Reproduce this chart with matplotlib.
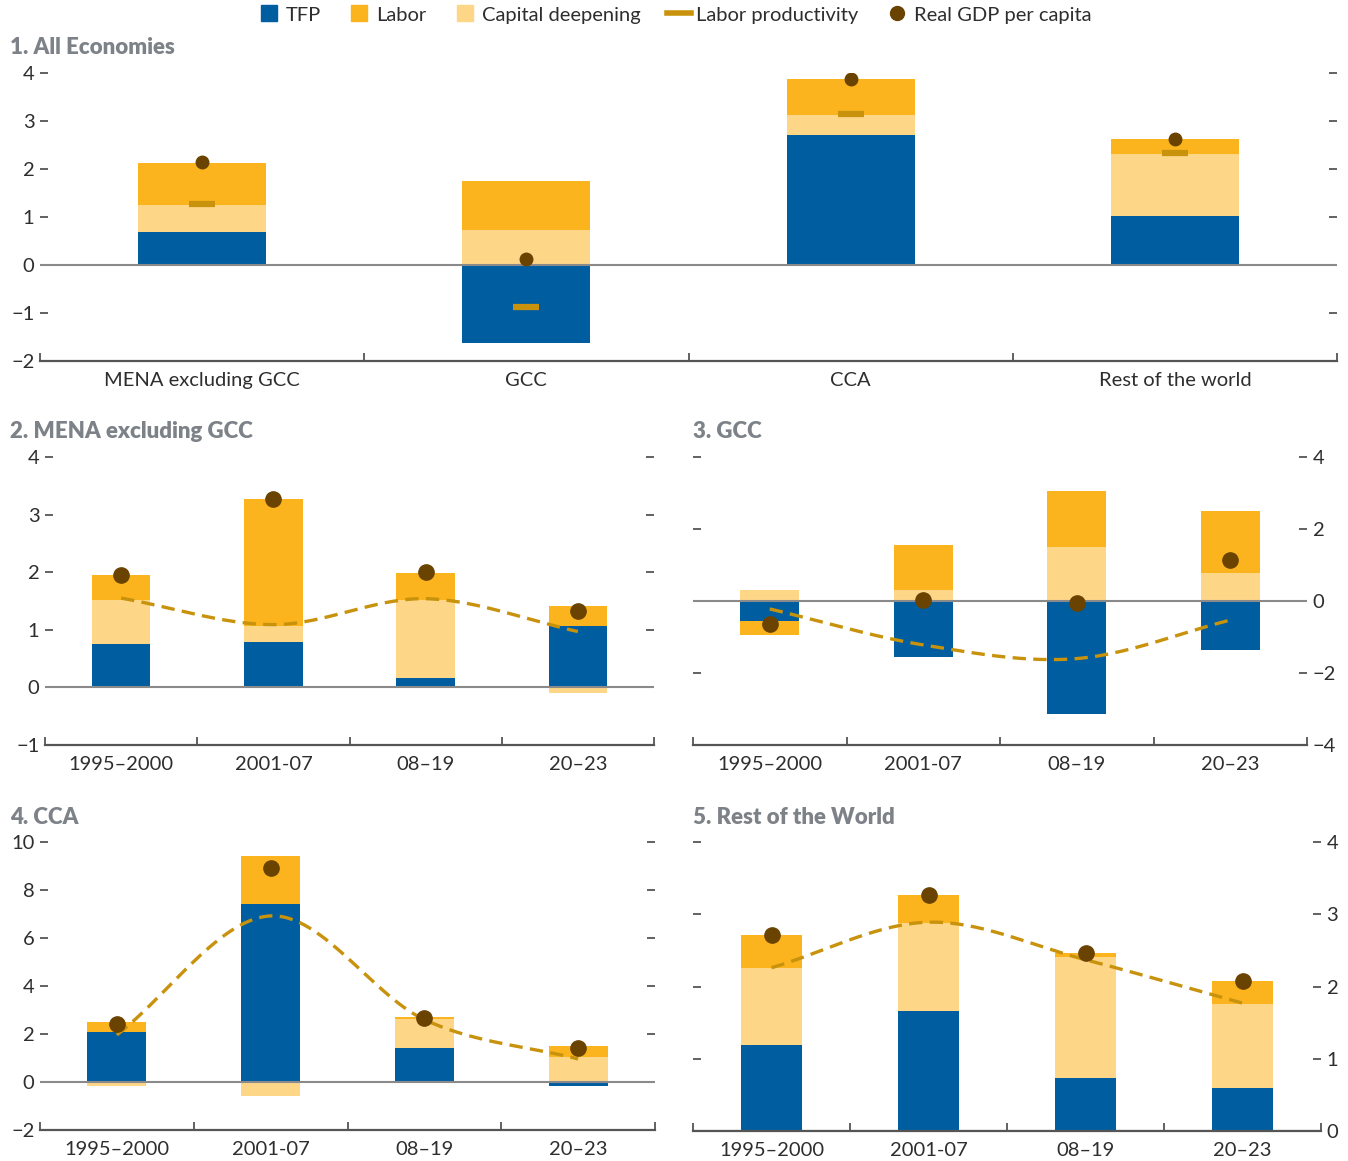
import numpy as np
import matplotlib
matplotlib.use("Agg")
import matplotlib.pyplot as plt
from matplotlib.lines import Line2D

plt.rcParams['font.family'] = ['Lato', 'DejaVu Sans']

# ---------------- data ----------------
legend_labels = ["TFP", "Labor", "Capital deepening", "Labor productivity", "Real GDP per capita"]

p1_categories = ["MENA excluding GCC", "GCC", "CCA", "Rest of the world"]
p1_tfp = [0.69, -1.63, 2.71, 1.02]
p1_capital = [0.56, 0.73, 0.42, 1.29]
p1_labor = [0.87, 1.02, 0.75, 0.31]
p1_lp = [1.27, -0.88, 3.15, 2.33]
p1_gdp = [2.15, 0.13, 3.88, 2.63]

periods = ["1995\u20132000", "2001-07", "08\u201319", "20\u201323"]

mena_tfp = [0.76, 0.78, 0.17, 1.06]
mena_capital = [0.76, 0.29, 1.35, -0.10]
mena_labor = [0.44, 2.20, 0.47, 0.36]
mena_lp = [1.55, 1.09, 1.54, 0.97]
mena_gdp = [1.96, 3.27, 2.00, 1.33]

gcc_tfp = [-0.56, -1.56, -3.14, -1.36]
gcc_capital = [0.31, 0.31, 1.50, 0.78]
gcc_labor = [-0.38, 1.25, 1.56, 1.72]
gcc_lp = [-0.22, -1.22, -1.60, -0.53]
gcc_gdp = [-0.64, 0.03, -0.06, 1.14]

cca_tfp = [2.08, 7.42, 1.42, -0.15]
cca_capital = [-0.15, -0.58, 1.20, 1.04]
cca_labor = [0.42, 2.00, 0.09, 0.46]
cca_lp = [1.96, 6.92, 2.60, 0.96]
cca_gdp = [2.42, 8.92, 2.67, 1.42]

row_tfp = [1.19, 1.66, 0.73, 0.60]
row_capital = [1.07, 1.22, 1.68, 1.16]
row_labor = [0.45, 0.39, 0.05, 0.32]
row_lp = [2.26, 2.89, 2.37, 1.77]
row_gdp = [2.71, 3.27, 2.46, 2.08]

# ---------------- style ----------------
C_TFP = "#005DA0"
C_LAB = "#FBB41E"
C_CAP = "#FDD688"
C_LP = "#C8920C"
C_GDP = "#6A4300"
C_TITLE = "#7D8288"
C_TXT = "#2E2E2E"
C_AX = "#555555"
TICK_FS = 14.5

W, H = 1348, 1161
fig = plt.figure(figsize=(W / 100, H / 100), dpi=100)


def add_ax(x0, x1, ytop, ybot):
    return fig.add_axes([x0 / W, 1 - ybot / H, (x1 - x0) / W, (ybot - ytop) / H])


def stacked(ax, x, comps, colors, width):
    pos = np.zeros(len(x))
    neg = np.zeros(len(x))
    for vals, c in zip(comps, colors):
        v = np.asarray(vals, float)
        base = np.where(v >= 0, pos, neg)
        ax.bar(x, v, width, bottom=base, color=c, linewidth=0, zorder=2)
        pos += np.clip(v, 0, None)
        neg += np.clip(v, None, 0)


def smooth(x, y, n=60):
    x = np.asarray(x, float)
    y = np.asarray(y, float)
    m = np.zeros_like(y)
    m[1:-1] = (y[2:] - y[:-2]) / (x[2:] - x[:-2])
    m[0] = (y[1] - y[0]) / (x[1] - x[0])
    m[-1] = (y[-1] - y[-2]) / (x[-1] - x[-2])
    xs, ys = [], []
    for i in range(len(x) - 1):
        h = x[i + 1] - x[i]
        t = np.linspace(0, 1, n)
        h00 = 2 * t**3 - 3 * t**2 + 1
        h10 = t**3 - 2 * t**2 + t
        h01 = -2 * t**3 + 3 * t**2
        h11 = t**3 - t**2
        xs.append(x[i] + t * h)
        ys.append(h00 * y[i] + h10 * h * m[i] + h01 * y[i + 1] + h11 * h * m[i + 1])
    return np.concatenate(xs), np.concatenate(ys)


def style(ax, labels, ylim, yticks, label_side):
    n = len(labels)
    ax.set_xlim(-0.5, n - 0.5)
    ax.set_ylim(*ylim)
    for s in ["top", "left", "right"]:
        ax.spines[s].set_visible(False)
    ax.spines["bottom"].set_color(C_AX)
    ax.spines["bottom"].set_linewidth(1.6)
    ax.spines["bottom"].set_zorder(5)
    ax.set_xticks(np.arange(n + 1) - 0.5)
    ax.set_xticklabels([])
    ax.set_xticks(np.arange(n), minor=True)
    ax.set_xticklabels(labels, minor=True)
    ax.tick_params(axis="x", which="major", direction="in", length=6, width=1.3, color=C_AX)
    ax.tick_params(axis="x", which="minor", length=0, pad=8, labelsize=TICK_FS, labelcolor=C_TXT)
    ax.set_yticks(yticks)
    ax.tick_params(axis="y", direction="in", length=6, width=1.3, color=C_AX,
                   left=True, right=True,
                   labelleft=(label_side == "left"), labelright=(label_side == "right"),
                   labelsize=TICK_FS, labelcolor=C_TXT, pad=4)
    ax.axhline(0, color="#8A8A8A", lw=1.5, zorder=3)


# ---------------- panel 1 ----------------
ax1 = add_ax(40, 1337, 73, 361)
x = np.arange(len(p1_categories))
stacked(ax1, x, [p1_tfp, p1_capital, p1_labor], [C_TFP, C_CAP, C_LAB], 0.395)
style(ax1, p1_categories, (-2, 4), np.arange(-2, 5, 1), "left")
ax1.plot(x, p1_lp, linestyle="none", marker="_", markersize=19, mew=4.5, color=C_LP, zorder=4)
ax1.plot(x, p1_gdp, linestyle="none", marker="o", markersize=9, color=C_GDP, zorder=6)


def lower_panel(box, tfp, cap, lab, lp, gdp, ylim, yticks, side):
    ax = add_ax(*box)
    xx = np.arange(len(periods))
    stacked(ax, xx, [tfp, cap, lab], [C_TFP, C_CAP, C_LAB], 0.385)
    style(ax, periods, ylim, yticks, side)
    sx, sy = smooth(xx, lp)
    ax.plot(sx, sy, linestyle=(0, (4, 2.2)), lw=2.4, color=C_LP, zorder=4)
    ax.plot(xx, gdp, linestyle="none", marker="o", markersize=11, color=C_GDP, zorder=6)
    return ax


lower_panel((45, 654, 457, 745), mena_tfp, mena_capital, mena_labor, mena_lp, mena_gdp,
            (-1, 4), np.arange(-1, 5, 1), "left")
lower_panel((693, 1307, 457, 745), gcc_tfp, gcc_capital, gcc_labor, gcc_lp, gcc_gdp,
            (-4, 4), np.arange(-4, 5, 2), "right")
lower_panel((40, 655, 842, 1130), cca_tfp, cca_capital, cca_labor, cca_lp, cca_gdp,
            (-2, 10), np.arange(-2, 11, 2), "left")
lower_panel((693, 1321, 842, 1131), row_tfp, row_capital, row_labor, row_lp, row_gdp,
            (0, 4), np.arange(0, 5, 1), "right")

# ---------------- titles ----------------
tkw = dict(fontsize=16, fontweight="heavy", color=C_TITLE, va="center", ha="left")
fig.text(10 / W, 1 - 48 / H, "1. All Economies", **tkw)
fig.text(10 / W, 1 - 432 / H, "2. MENA excluding GCC", **tkw)
fig.text(693 / W, 1 - 432 / H, "3. GCC", **tkw)
fig.text(10 / W, 1 - 817 / H, "4. CCA", **tkw)
fig.text(693 / W, 1 - 817 / H, "5. Rest of the World", **tkw)

# ---------------- legend ----------------
handles = [
    Line2D([], [], linestyle="none", marker="s", markersize=11, color=C_TFP),
    Line2D([], [], linestyle="none", marker="s", markersize=11, color=C_LAB),
    Line2D([], [], linestyle="none", marker="s", markersize=11, color=C_CAP),
    Line2D([], [], color=C_LP, lw=4),
    Line2D([], [], linestyle="none", marker="o", markersize=10, color=C_GDP),
]
leg = fig.legend(handles, legend_labels, loc="center", bbox_to_anchor=(674 / W, 1 - 15 / H),
                 ncol=5, frameon=False, fontsize=14.5, handlelength=1.2, handletextpad=0.25,
                 columnspacing=1.3, borderaxespad=0)
for t in leg.get_texts():
    t.set_color(C_TXT)

fig.savefig("out.png", dpi=100)
